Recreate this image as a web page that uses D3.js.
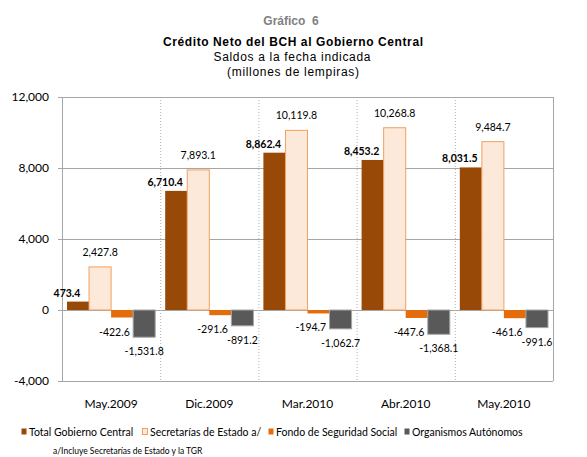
<!DOCTYPE html>
<html>
<head>
<meta charset="utf-8">
<script src="https://cdn.jsdelivr.net/npm/d3@7"></script>
<style>
  body { margin: 0; background: #fff; }
  svg { display: block; }
</style>
</head>
<body>
<div id="graph-container"></div>
<script>

// ---- data ----
var categories = ['May.2009', 'Dic.2009', 'Mar.2010', 'Abr.2010', 'May.2010'];
var series_names = ['Total Gobierno Central', 'Secretarías de Estado a/', 'Fondo de Seguridad Social', 'Organismos Autónomos'];
var total_gobierno = [473.4, 6710.4, 8862.4, 8453.2, 8031.5];
var secretarias = [2427.8, 7893.1, 10119.8, 10268.8, 9484.7];
var fondo_seguridad = [-422.6, -291.6, -194.7, -447.6, -461.6];
var organismos = [-1531.8, -891.2, -1062.7, -1368.1, -991.6];
var y_ticks = [-4000, 0, 4000, 8000, 12000];

// ---- layout ----
var W = 587, H = 457;
var plot = {left: 62, right: 553, top: 97, bottom: 381};

var label_font = 'Lato, "Open Sans", sans-serif';
var title_font = '"Liberation Sans", Arial, sans-serif';

var fills = ['#984807', '#fde9d9', '#e46c0a', '#595959'];
var strokes = ['none', '#f0a060', 'none', '#a6a6a6'];

var svg = d3.select('#graph-container').append('svg')
    .attr('width', W).attr('height', H);

var values = [total_gobierno, secretarias, fondo_seguridad, organismos];
var rows = [];
categories.forEach(function (c, i) {
    values.forEach(function (v, s) {
        rows.push({cat: c, s: s, v: v[i]});
    });
});

var x = d3.scaleBand().domain(categories).range([plot.left, plot.right]).padding(0);
var xs = d3.scaleBand().domain(d3.range(series_names.length)).range([5, x.bandwidth() - 5]).padding(0);
var y = d3.scaleLinear().domain([-4000, 12000]).range([plot.bottom, plot.top]);

// plain hyphen for negatives, like the original
var locale = d3.formatLocale({decimal: '.', thousands: ',', grouping: [3], currency: ['', ''], minus: '-'});
var fmt = locale.format(',.1f');
var tickFmt = locale.format(',');

// ---- titles ----
var titles = svg.append('g').attr('text-anchor', 'middle').style('font-family', title_font);
titles.append('text').attr('x', 291).attr('y', 25).attr('font-size', 12).attr('font-weight', 'bold')
    .attr('fill', '#808080').style('white-space', 'pre').text('Gráfico  6');
titles.append('text').attr('x', 293).attr('y', 46).attr('font-size', 12).attr('font-weight', 'bold')
    .attr('fill', '#000').attr('textLength', 260).text('Crédito Neto del BCH al Gobierno Central');
titles.append('text').attr('x', 292).attr('y', 61).attr('font-size', 12)
    .attr('fill', '#000').attr('textLength', 157).text('Saldos a la fecha indicada');
titles.append('text').attr('x', 293).attr('y', 76).attr('font-size', 12)
    .attr('fill', '#000').attr('textLength', 132).text('(millones de lempiras)');

// ---- grid & frame ----
var grid = svg.append('g');
grid.selectAll('line.h').data(y_ticks).join('line').attr('class', 'h')
    .attr('x1', plot.left - 4).attr('x2', plot.right)
    .attr('y1', function (d) { return y(d) + 0.5; }).attr('y2', function (d) { return y(d) + 0.5; })
    .attr('stroke', '#a6a6a6').attr('stroke-width', 1);

grid.selectAll('line.v').data(categories.slice(1)).join('line').attr('class', 'v')
    .attr('x1', function (d) { return x(d) + 0.5; }).attr('x2', function (d) { return x(d) + 0.5; })
    .attr('y1', plot.top).attr('y2', plot.bottom)
    .attr('stroke', '#b0b0b0').attr('stroke-dasharray', '1,2');

grid.append('line').attr('x1', plot.left + 0.5).attr('x2', plot.left + 0.5)
    .attr('y1', plot.top).attr('y2', plot.bottom).attr('stroke', '#a6a6a6');
grid.append('line').attr('x1', plot.right + 0.5).attr('x2', plot.right + 0.5)
    .attr('y1', plot.top).attr('y2', plot.bottom).attr('stroke', '#a6a6a6');

// y tick labels
svg.append('g').selectAll('text').data(y_ticks).join('text')
    .attr('x', 49).attr('y', function (d) { return y(d); }).attr('dy', '0.35em')
    .attr('text-anchor', 'end').style('font-family', label_font).attr('font-size', 12)
    .attr('fill', '#000').text(function (d) { return tickFmt(d); });

// category labels
svg.append('g').selectAll('text').data(categories).join('text')
    .attr('x', function (d) { return x(d) + x.bandwidth() / 2; }).attr('y', 408)
    .attr('text-anchor', 'middle').style('font-family', label_font).attr('font-size', 12)
    .attr('fill', '#000').text(function (d) { return d; });

// ---- bars ----
svg.append('g').selectAll('rect').data(rows).join('rect')
    .attr('x', function (d) { return x(d.cat) + xs(d.s); })
    .attr('width', xs.bandwidth())
    .attr('y', function (d) { return Math.min(y(d.v), y(0)); })
    .attr('height', function (d) { return Math.abs(y(d.v) - y(0)); })
    .attr('fill', function (d) { return fills[d.s]; })
    .attr('stroke', function (d) { return strokes[d.s]; })
    .attr('stroke-width', 1);

// ---- value labels ----
var label_dx = [0, 0.5, 0.15, 0.5];   // fraction of bar width

svg.append('g').selectAll('text').data(rows).join('text')
    .attr('x', function (d) { return x(d.cat) + xs(d.s) + xs.bandwidth() * label_dx[d.s]; })
    .attr('y', function (d) {
        if (d.s === 0) return y(d.v) - 5;
        if (d.s === 1) return y(d.v) - 11;
        return y(d.v) + 18;
    })
    .attr('text-anchor', 'middle')
    .style('font-family', label_font).attr('font-size', 10.5)
    .attr('font-weight', function (d) { return d.s === 0 ? 'bold' : 'normal'; })
    .attr('fill', '#000')
    .text(function (d) { return fmt(d.v); });

// ---- legend ----
var legend_x = [21, 142, 268, 404];
var legend = svg.append('g').style('font-family', label_font).attr('font-size', 10.5);
var items = legend.selectAll('g').data(series_names).join('g')
    .attr('transform', function (d, i) { return 'translate(' + legend_x[i] + ',432)'; });
items.append('rect').attr('x', 0.5).attr('y', -3.5).attr('width', 5).attr('height', 6)
    .attr('fill', function (d, i) { return fills[i]; })
    .attr('stroke', function (d, i) { return i === 1 ? '#f0a060' : 'none'; });
items.append('text').attr('x', 8).attr('y', 0).attr('dy', '0.35em').attr('fill', '#000')
    .text(function (d) { return d; });

svg.append('text').attr('x', 53).attr('y', 454).style('font-family', label_font).attr('font-size', 8.5)
    .attr('fill', '#000').text('a/Incluye Secretarías de Estado y la TGR');

</script>
</body>
</html>
